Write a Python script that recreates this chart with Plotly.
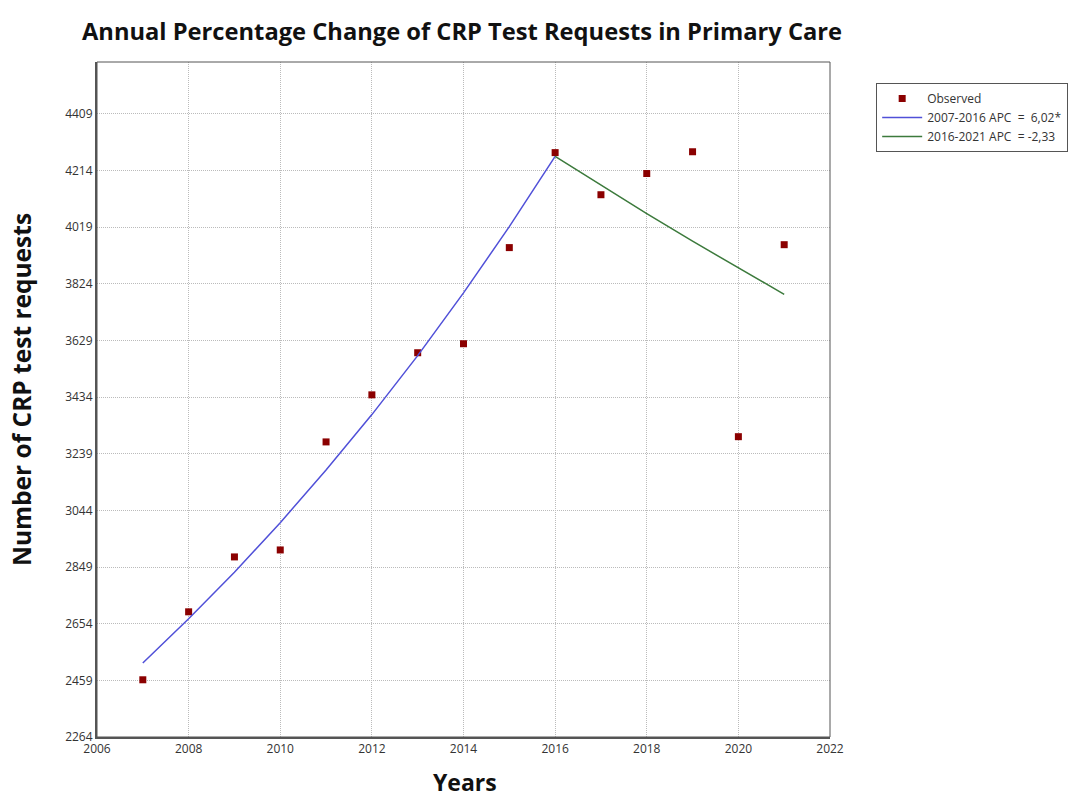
import plotly.graph_objects as go

years = [2007, 2008, 2009, 2010, 2011, 2012, 2013, 2014, 2015, 2016, 2017, 2018, 2019, 2020, 2021]
observed = [2461, 2695, 2884, 2908, 3280, 3442, 3587, 3618, 3949, 4276, 4131, 4204, 4279, 3298, 3959]

seg1_years = [2007, 2008, 2009, 2010, 2011, 2012, 2013, 2014, 2015, 2016]
seg1_fit = [2519, 2671, 2831, 3002, 3183, 3374, 3577, 3793, 4021, 4263]
seg2_years = [2016, 2017, 2018, 2019, 2020, 2021]
seg2_fit = [4263, 4163, 4066, 3971, 3879, 3788]

y_ticks = [2264, 2459, 2654, 2849, 3044, 3239, 3434, 3629, 3824, 4019, 4214, 4409]
x_ticks = [2006, 2008, 2010, 2012, 2014, 2016, 2018, 2020, 2022]

fig = go.Figure()
fig.add_trace(go.Scatter(x=years, y=observed, mode="markers", name="Observed",
                         marker=dict(symbol="square", size=7, color="#8B0000")))
fig.add_trace(go.Scatter(x=seg1_years, y=seg1_fit, mode="lines", name="2007-2016 APC  =  6,02*",
                         line=dict(color="#5050D8", width=1.5)))
fig.add_trace(go.Scatter(x=seg2_years, y=seg2_fit, mode="lines", name="2016-2021 APC  = -2,33",
                         line=dict(color="#3C7A3C", width=1.5)))

tickfont = dict(family="Open Sans, Noto Sans, sans-serif", size=12, color="#333333")
fig.update_layout(
    width=1081, height=800,
    margin=dict(l=97, r=251, t=62, b=63),
    paper_bgcolor="white", plot_bgcolor="white",
    showlegend=True,
    legend=dict(x=1.063, y=0.969, xanchor="left", yanchor="top",
                bordercolor="#555555", borderwidth=1, bgcolor="white",
                font=dict(family="Open Sans, Noto Sans, sans-serif", size=12, color="#333333"),
                tracegroupgap=0, itemwidth=40),
    xaxis=dict(range=[2006, 2022], tickvals=x_ticks, ticktext=[str(v) for v in x_ticks],
               showgrid=True, gridcolor="#BBBBBB", griddash="1px,1px", gridwidth=1,
               showline=True, linecolor="#555555", linewidth=2, mirror=False,
               ticks="", tickfont=tickfont, zeroline=False, fixedrange=True),
    yaxis=dict(range=[2264, 4588], tickvals=y_ticks, ticktext=[str(v) for v in y_ticks],
               showgrid=True, gridcolor="#BBBBBB", griddash="1px,1px", gridwidth=1,
               showline=True, linecolor="#555555", linewidth=2, mirror=False,
               ticks="", tickfont=tickfont, zeroline=False, fixedrange=True),
    shapes=[dict(type="rect", xref="paper", yref="paper", x0=0, y0=0, x1=1, y1=1,
                 line=dict(color="#555555", width=1))],
)

fig.add_annotation(text="<b>Annual Percentage Change of CRP Test Requests in Primary Care</b>",
                   xref="paper", yref="paper", x=(462 - 97) / 733, y=(737 - 31) / 675,
                   xanchor="center", yanchor="middle", showarrow=False,
                   font=dict(family="Open Sans, sans-serif", size=23.7, color="#111111"))
fig.add_annotation(text="<b>Number of CRP test requests</b>",
                   xref="paper", yref="paper", x=(22 - 97) / 733, y=(737 - 390) / 675,
                   xanchor="center", yanchor="middle", textangle=-90, showarrow=False,
                   font=dict(family="Open Sans, sans-serif", size=24.5, color="#111111"))
fig.add_annotation(text="<b>Years</b>",
                   xref="paper", yref="paper", x=(465 - 97) / 733, y=(737 - 799) / 675,
                   xanchor="center", yanchor="bottom", showarrow=False, borderpad=0,
                   font=dict(family="Open Sans, sans-serif", size=23, color="#111111"))

fig.write_html("out.html")
